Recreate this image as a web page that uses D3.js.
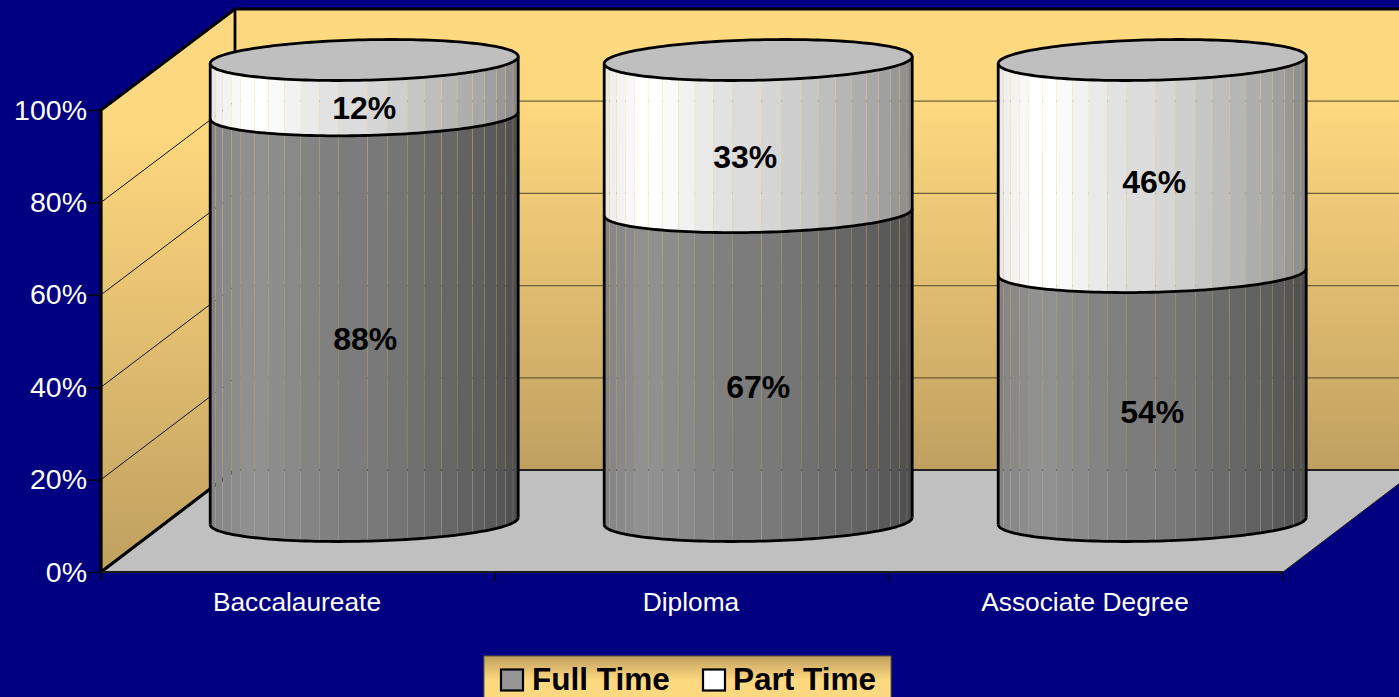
<!DOCTYPE html>
<html><head><meta charset="utf-8">
<script src="https://cdn.jsdelivr.net/npm/d3@7/dist/d3.min.js"></script>
<style>html,body{margin:0;padding:0;background:#000080;overflow:hidden}svg{display:block}text{font-family:"Liberation Sans",Arial,sans-serif}</style>
</head><body><svg id="c" width="1399" height="697"></svg>
<script>
const categories = ["Baccalaureate","Diploma","Associate Degree"];
const fullTime = [88,67,54];
const partTime = [12,33,46];
const seriesNames = ["Full Time","Part Time"];
const valueTicks = [0,20,40,60,80,100];

const W=1399,H=697, svg=d3.select("#c");
const depth={x:134,y:-102};
const x=d3.scaleBand().domain(categories).range([101,1283]);
const yFront=d3.scaleLinear().domain([0,100]).range([572,110]);
const yBack=d3.scaleLinear().domain([0,100]).range([470,9]);
const yCyl=d3.scaleLinear().domain([0,100]).range([521,60]);

const defs=svg.append("defs");
function grad(id,stops,y1,y2){
  const g=defs.append("linearGradient").attr("id",id).attr("gradientUnits","userSpaceOnUse")
    .attr("x1",0).attr("x2",0).attr("y1",y1).attr("y2",y2);
  stops.forEach(s=>g.append("stop").attr("offset",s[0]).attr("stop-color",s[1]));
}
grad("wall",[[0,"#ffd97f"],[0.2,"#ffd97f"],[1,"#c0a060"]],9,470);
grad("side",[[0,"#ffd97f"],[0.2,"#ffd97f"],[1,"#c0a060"]],9,572);
grad("leg",[[0,"#c0a060"],[0.6,"#ffd97f"],[1,"#ffd97f"]],656,697);

const x0=x.range()[0], x1=x.range()[1];
const poly=p=>p.map(d=>d.join(",")).join(" ");
// walls & floor
svg.append("polygon").attr("points",poly([[x0+depth.x,yBack(100)],[W+5,yBack(100)],[W+5,yBack(0)],[x0+depth.x,yBack(0)]])).attr("fill","url(#wall)");
svg.append("polygon").attr("points",poly([[x0,yFront(100)],[x0+depth.x,yBack(100)],[x0+depth.x,yBack(0)],[x0,yFront(0)]])).attr("fill","url(#side)");
svg.append("polygon").attr("points",poly([[x0,yFront(0)],[x1,yFront(0)],[x1+depth.x,yBack(0)],[x0+depth.x,yBack(0)]])).attr("fill","#c0c0c0");

// gridlines
valueTicks.filter(v=>v>0).forEach(v=>{
  svg.append("line").attr("x1",x0).attr("y1",yFront(v)).attr("x2",x0+depth.x).attr("y2",yBack(v)).attr("stroke","#111").attr("stroke-width",1);
  if(v<100) svg.append("line").attr("x1",x0+depth.x).attr("y1",yBack(v)).attr("x2",W+5).attr("y2",yBack(v)).attr("stroke","#6e5f38").attr("stroke-width",1.3);
});
// frame
const frame=(pts,w,c)=>svg.append("polyline").attr("points",poly(pts)).attr("fill","none").attr("stroke",c||"#000").attr("stroke-width",w);
frame([[x0,yFront(0)],[x0,yFront(100)],[x0+depth.x,yBack(100)],[W+5,yBack(100)]],3.2);
frame([[x0+depth.x,yBack(100)],[x0+depth.x,yBack(0)]],2.8);
frame([[x0,yFront(0)],[x0+depth.x,yBack(0)]],3.2);
frame([[x0+depth.x,yBack(0)],[W+5,yBack(0)]],1.8,"#222");
frame([[x0,yFront(0)],[x1,yFront(0)]],1.8,"#1a1a1a");
frame([[x1,yFront(0)],[x1+depth.x,yBack(0)]],1,"#222");

// axes
const axL=svg.append("g").attr("transform",`translate(${x0},0)`)
  .call(d3.axisLeft(yFront).tickValues(valueTicks).tickSize(13).tickPadding(1).tickFormat(d=>d+"%"));
axL.select(".domain").remove();
axL.selectAll("line").attr("stroke","#000").attr("stroke-width",1.3);
axL.selectAll("text").attr("fill","#fff").attr("font-size",28.5).attr("font-family","Liberation Sans");
const axB=svg.append("g").attr("transform",`translate(-1,${yFront(0)})`)
  .call(d3.axisBottom(x).tickSize(0).tickPadding(0));
axB.select(".domain").remove();
axB.selectAll("text").attr("fill","#fff").attr("font-size",26.3).attr("font-family","Liberation Sans").attr("dy",0).attr("y",39);
d3.range(categories.length+1).forEach(i=>{
  const px=x0+i*x.step();
  svg.append("line").attr("x1",px).attr("x2",px).attr("y1",yFront(0)).attr("y2",yFront(0)+9).attr("stroke","#000").attr("stroke-width",1.2);
});

// cylinders
const facetEdges=[0,5.5,12.4,21,30.7,44,58,74,90.7,109,128,157.3,177,197,214,231.4,247,262.4,274.5,286.6,295.2,302.8,308];
const facetShade=[0xe8,0xef,0xf3,0xf8,0xff,0xff,0xfa,0xf2,0xea,0xe2,0xdc,0xd6,0xcf,0xc6,0xbe,0xb6,0xae,0xa8,0xa0,0x98,0x90,0x88];
const cylW=308, rx=cylW/2, ry=20.2, tilt=3.5;
const stack=d3.stack().keys([0,1]).value((d,k)=>d[k])(categories.map((c,i)=>[fullTime[i],partTime[i]]));
const frontY=(u,level)=>yCyl(level)+ry*Math.sqrt(Math.max(0,1-u*u))-tilt*u;
const seam=0.12;
const centre=c=>x(c)+x.bandwidth()/2+depth.x/2-0.8;
categories.forEach((c,i)=>{
  const cx=centre(c);
  const g=svg.append("g");
  const U=px=>px/rx-1;
  stack.forEach((s,si)=>{
    const lo=s[i][0],hi=s[i][1], k=si===0?0.565:1;
    facetShade.forEach((sh,j)=>{
      const a=facetEdges[j]+(j?seam:0), b=facetEdges[j+1]-(j<facetShade.length-1?seam:0);
      const n=4, top=[],bot=[];
      for(let t=0;t<=n;t++){
        const p=a+(b-a)*t/n,u=U(p);
        top.push([cx-rx+p,frontY(u,hi)]);
        bot.push([cx-rx+p,frontY(u,lo)]);
      }
      const v=Math.round(sh*k);
      g.append("polygon").attr("points",poly(top.concat(bot.reverse()))).attr("fill",d3.rgb(v,v,v));
    });
  });
  const curve=(level,front)=>{
    const pts=[];
    for(let t=0;t<=80;t++){
      const a=Math.PI*t/80,u=-Math.cos(a);
      pts.push([cx+rx*u,yCyl(level)+(front?1:-1)*ry*Math.sin(a)-tilt*u]);
    }
    return pts;
  };
  const sw=2.8;
  g.append("line").attr("x1",cx-rx).attr("x2",cx-rx).attr("y1",yCyl(100)+tilt).attr("y2",yCyl(0)+tilt).attr("stroke","#000").attr("stroke-width",sw);
  g.append("line").attr("x1",cx+rx).attr("x2",cx+rx).attr("y1",yCyl(100)-tilt).attr("y2",yCyl(0)-tilt).attr("stroke","#000").attr("stroke-width",sw);
  g.append("polyline").attr("points",poly(curve(0,true))).attr("fill","none").attr("stroke","#000").attr("stroke-width",sw);
  g.append("polyline").attr("points",poly(curve(stack[0][i][1],true))).attr("fill","none").attr("stroke","#000").attr("stroke-width",sw);
  g.append("polygon").attr("points",poly(curve(100,true).concat(curve(100,false).reverse()))).attr("fill","#bfbfbf").attr("stroke","#000").attr("stroke-width",sw);
});

// data labels (the original sits lower than the segment centre and a little off-axis)
const labelShift=[[[1,20.5],[0,20]],[[0,20.5],[-13,21]],[[0,15.5],[2,16]]];
categories.forEach((c,i)=>{
  const cx=centre(c);
  stack.forEach((s,si)=>{
    const lo=s[i][0],hi=s[i][1];
    svg.append("text").attr("x",cx+labelShift[i][si][0]).attr("y",(yCyl(lo)+yCyl(hi))/2+labelShift[i][si][1]).attr("dy","0.35em")
      .attr("text-anchor","middle").attr("font-weight","bold").attr("font-size",32).attr("fill","#000")
      .text((si===0?fullTime:partTime)[i]+"%");
  });
});

// legend
svg.append("rect").attr("x",484).attr("y",656).attr("width",407).attr("height",45).attr("fill","url(#leg)").attr("stroke","#6b5a30").attr("stroke-width",1);
[[501,"#969696",532],[703,"#ffffff",733]].forEach((l,i)=>{
  svg.append("rect").attr("x",l[0]).attr("y",669.5).attr("width",22).attr("height",21).attr("fill",l[1]).attr("stroke","#000").attr("stroke-width",2.2);
  svg.append("text").attr("x",l[2]).attr("y",690).attr("font-weight","bold").attr("font-size",31.5).attr("fill","#000").text(seriesNames[i]);
});
</script></body></html>
